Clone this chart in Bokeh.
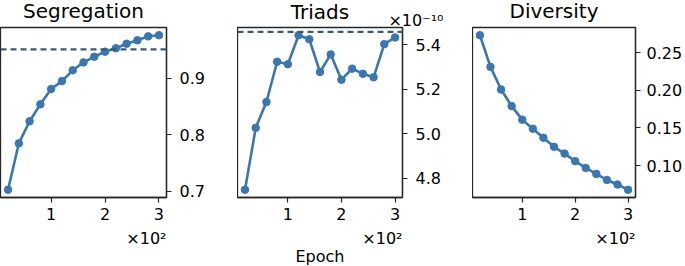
from bokeh.plotting import figure
from bokeh.layouts import row
from bokeh.models import Range1d, FixedTicker, Span, Title, NumeralTickFormatter
from bokeh.embed import file_html
from bokeh.resources import INLINE

# ---- data ----
epochs = [20, 40, 60, 80, 100, 120, 140, 160, 180, 200, 220, 240, 260, 280, 300]
segregation = [0.703, 0.785, 0.824, 0.854, 0.881, 0.895, 0.914, 0.928, 0.938,
               0.947, 0.953, 0.961, 0.967, 0.974, 0.976]
triads = [4.749, 5.027, 5.143, 5.324, 5.313, 5.443, 5.425, 5.278, 5.357,
          5.243, 5.293, 5.270, 5.254, 5.403, 5.433]   # x 1e-10
diversity = [0.273, 0.231, 0.201, 0.179, 0.161, 0.149, 0.137, 0.125, 0.116,
             0.106, 0.097, 0.089, 0.081, 0.075, 0.068]
seg_target = 0.951
triad_target = 5.458

titles = ["Segregation", "Triads", "Diversity"]
x_ticks = [100, 200, 300]
x_tick_labels = {100: "1", 200: "2", 300: "3"}
seg_ticks = [0.7, 0.8, 0.9]
triad_ticks = [4.8, 5.0, 5.2, 5.4]
div_ticks = [0.10, 0.15, 0.20, 0.25]
x_scale_text = "×10²"
triad_scale_text = "×10⁻¹⁰"
x_label = "Epoch"

LINE = "#3a76af"
DASH = "#3e5a73"
FRAME = "#262626"
FONT = "DejaVu Sans"
SHIFT = 9   # figure is drawn taller and pulled up by this many px


def padded(vals, frac=0.05):
    lo, hi = min(vals), max(vals)
    d = (hi - lo) * frac
    return lo - d, hi + d


def txt(text, size, align, standoff, offset=0):
    return Title(text=text, align=align, offset=offset, text_font=FONT,
                 text_font_size=size, text_font_style="normal",
                 text_color="#000000", standoff=standoff)


def make_panel(title, ys, yticks, yfmt, width, right_border, target=None,
               with_xlabel=False, scale_text=None, ylabel_standoff=8):
    xlo, xhi = padded(epochs)
    ylo, yhi = padded(ys)
    p = figure(width=width, height=266 + SHIFT, x_range=Range1d(xlo, xhi),
               y_range=Range1d(ylo, yhi), y_axis_location="right",
               title=None, output_backend="svg", toolbar_location=None,
               min_border_left=0, min_border_right=right_border,
               min_border_top=27 + SHIFT, min_border_bottom=69)
    if scale_text is None:
        p.add_layout(txt(title, "20px", "center", 10), "above")
    else:
        # offset text shares the title's line, just right of the frame
        p.add_layout(txt(scale_text, "16px", "right", -4, offset=-41), "above")
        p.add_layout(txt(title, "20px", "center", -26), "above")

    p.grid.visible = False
    p.outline_line_color = FRAME
    p.outline_line_width = 1.3
    p.outline_line_alpha = 1.0
    p.background_fill_color = "white"
    p.border_fill_color = "white"

    for ax in (p.xaxis[0], p.yaxis[0]):
        ax.axis_line_color = FRAME
        ax.axis_line_width = 1.3
        ax.major_tick_line_color = FRAME
        ax.major_tick_line_width = 1.2
        ax.major_tick_out = 5
        ax.major_tick_in = 0
        ax.minor_tick_line_color = None
        ax.major_label_text_font = FONT
        ax.major_label_text_font_size = "16px"
        ax.major_label_text_color = "#000000"

    p.xaxis[0].ticker = FixedTicker(ticks=x_ticks)
    p.xaxis[0].major_label_overrides = x_tick_labels
    p.xaxis[0].major_label_standoff = 5
    p.yaxis[0].ticker = FixedTicker(ticks=yticks)
    p.yaxis[0].formatter = NumeralTickFormatter(format=yfmt)
    p.yaxis[0].major_label_standoff = ylabel_standoff

    if target is not None:
        p.add_layout(Span(location=target, dimension="width", line_color=DASH,
                          line_width=2.2, line_dash="6 4"))

    p.line(epochs, ys, line_color=LINE, line_width=2.6)
    p.scatter(epochs, ys, size=7.5, fill_color=LINE, line_color=LINE)

    p.add_layout(txt(x_scale_text, "16px", "right", 8), "below")
    if with_xlabel:
        p.add_layout(txt(x_label, "16px", "center", -14), "below")
    return p


p1 = make_panel(titles[0], segregation, seg_ticks, "0.0", 237, 71,
                target=seg_target)
p2 = make_panel(titles[1], triads, triad_ticks, "0.0", 235, 70,
                target=triad_target, with_xlabel=True,
                scale_text=triad_scale_text)
p3 = make_panel(titles[2], diversity, div_ticks, "0.00", 213, 47,
                ylabel_standoff=6)

layout = row(p1, p2, p3, spacing=0, margin=(-SHIFT, 0, 0, 0))

open("out.html", "w").write(file_html(layout, INLINE))
